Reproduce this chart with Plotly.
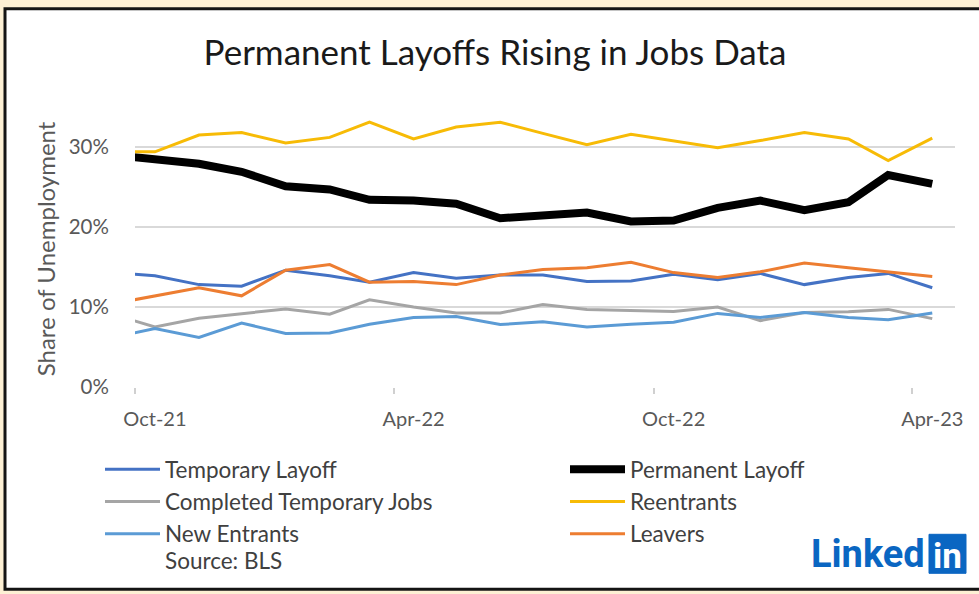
import plotly.graph_objects as go

# Monthly observations (mid-month dates); the first point sits just before the axis start
months = [
    "2021-09-15", "2021-10-15", "2021-11-15", "2021-12-15",
    "2022-01-15", "2022-02-15", "2022-03-15", "2022-04-15",
    "2022-05-15", "2022-06-15", "2022-07-15", "2022-08-15",
    "2022-09-15", "2022-10-15", "2022-11-15", "2022-12-15",
    "2023-01-15", "2023-02-15", "2023-03-15", "2023-04-15",
]

# Share of unemployment by reason (%)
temporary_layoff = [14.3, 13.9, 12.8, 12.6, 14.6, 13.9, 13.1, 14.3, 13.6, 14.0,
                    14.0, 13.2, 13.25, 14.1, 13.4, 14.2, 12.8, 13.7, 14.2, 12.4]
permanent_layoff = [29.0, 28.5, 27.9, 26.9, 25.1, 24.7, 23.4, 23.3, 22.9, 21.1,
                    21.4, 21.8, 20.7, 20.8, 22.4, 23.3, 22.1, 23.1, 26.5, 25.4]
completed_temporary = [9.1, 7.5, 8.6, 9.2, 9.75, 9.1, 10.9, 10.0, 9.25, 9.25,
                       10.3, 9.7, 9.6, 9.45, 10.0, 8.3, 9.3, 9.4, 9.7, 8.55]
reentrants = [29.4, 29.4, 31.5, 31.8, 30.5, 31.2, 33.1, 31.0, 32.5, 33.1,
              31.7, 30.3, 31.6, 30.8, 29.9, 30.8, 31.8, 31.0, 28.3, 31.1]
new_entrants = [6.2, 7.3, 6.2, 8.0, 6.7, 6.75, 7.85, 8.7, 8.8, 7.8,
                8.15, 7.5, 7.85, 8.1, 9.2, 8.7, 9.3, 8.7, 8.4, 9.25]
leavers = [10.4, 11.4, 12.4, 11.4, 14.6, 15.3, 13.1, 13.2, 12.8, 14.0,
           14.7, 14.9, 15.6, 14.3, 13.7, 14.4, 15.5, 14.9, 14.4, 13.8]

x_tick_dates = ["2021-10-15", "2022-04-15", "2022-10-15", "2023-04-15"]
x_tick_labels = ["Oct-21", "Apr-22", "Oct-22", "Apr-23"]
x_tick_marks = ["2021-10-01", "2022-04-01", "2022-10-01", "2023-04-01"]
y_tick_values = [0, 10, 20, 30]
y_tick_labels = ["0%", "10%", "20%", "30%"]

# name, values, colour, width, legend column
series = [
    ("Temporary Layoff", temporary_layoff, "#4472c4", 3, "legend"),
    ("Permanent Layoff", permanent_layoff, "#000000", 8, "legend2"),
    ("Completed Temporary Jobs", completed_temporary, "#a5a5a5", 3, "legend"),
    ("Reentrants", reentrants, "#f7bb06", 3, "legend2"),
    ("New Entrants", new_entrants, "#5b9bd5", 3, "legend"),
    ("Leavers", leavers, "#ed7d31", 3, "legend2"),
]

W, H = 979, 594
ML, MR, MT, MB = 135, 24, 106.7, 207.3
PW, PH = W - ML - MR, H - MT - MB


def px(x):
    return (x - ML) / PW


def py(y):
    return (H - MB - y) / PH


FONT = "Lato, 'Open Sans', sans-serif"

fig = go.Figure()
for name, values, color, width, legend_id in series:
    fig.add_trace(go.Scatter(
        x=months, y=values, name=name, mode="lines",
        line=dict(color=color, width=width),
        legend=legend_id, legendgroup=name,
        hovertemplate="%{y:.1f}%<extra>" + name + "</extra>",
    ))

legend_common = dict(
    orientation="v", xref="container", yref="container",
    xanchor="left", yanchor="top", itemwidth=55,
    font=dict(family=FONT, size=22.5, color="#404040"),
    bgcolor="rgba(0,0,0,0)", traceorder="grouped", tracegroupgap=0,
)

fig.update_layout(
    width=W, height=H,
    margin=dict(l=ML, r=MR, t=MT, b=MB, autoexpand=False),
    paper_bgcolor="#fdf0d4",
    plot_bgcolor="rgba(0,0,0,0)",
    font=dict(family=FONT, color="#595959", size=20),
    title=dict(
        text="Permanent Layoffs Rising in Jobs Data",
        xref="container", x=495 / W, xanchor="center",
        yref="container", y=1 - 53 / H, yanchor="middle",
        font=dict(family=FONT, size=35, color="#1a1a1a"),
    ),
    xaxis=dict(
        type="date",
        range=["2021-10-01", "2023-05-01"],
        tickmode="array", tickvals=x_tick_dates, ticktext=x_tick_labels,
        ticks="outside", ticklen=14, tickcolor="rgba(0,0,0,0)",
        showgrid=False, zeroline=False, showline=False,
        tickfont=dict(size=20, color="#595959"),
        minor=dict(tickmode="array", tickvals=x_tick_marks, ticks="outside",
                   ticklen=6, tickwidth=1.5, tickcolor="#d0d0d0", showgrid=False),
    ),
    yaxis=dict(
        range=[0, 35], tickmode="array",
        tickvals=y_tick_values, ticktext=y_tick_labels,
        showgrid=True, gridcolor="#d9d9d9", gridwidth=2,
        zeroline=False, showline=False,
        ticks="outside", ticklen=21, tickcolor="rgba(0,0,0,0)",
        tickfont=dict(size=20.5, color="#595959"),
    ),
    legend=dict(legend_common, x=100 / W, y=1 - 448 / H),
    legend2=dict(legend_common, x=565 / W, y=1 - 448 / H),
    shapes=[
        # card with dark frame
        dict(type="rect", xref="paper", yref="paper", layer="below",
             x0=px(5), x1=px(990), y0=py(589), y1=py(8.5),
             fillcolor="#ffffff", line=dict(color="#141414", width=3)),
        # LinkedIn "in" badge
        dict(type="rect", xref="paper", yref="paper",
             x0=px(929), x1=px(966), y0=py(573), y1=py(534),
             fillcolor="#0a66c2", line=dict(color="#0a66c2", width=1)),
    ],
    annotations=[
        # y-axis title
        dict(text="Share of Unemployment", xref="paper", yref="paper",
             x=px(45), y=py(249), xanchor="center", yanchor="middle",
             textangle=-90, showarrow=False,
             font=dict(size=24, color="#595959")),
        dict(text="Source: BLS", xref="paper", yref="paper",
             x=px(163), y=py(560), xanchor="left", yanchor="middle",
             showarrow=False, font=dict(size=22.5, color="#404040")),
        dict(text="<b>Linked</b>", xref="paper", yref="paper",
             x=px(927), y=py(554), xanchor="right", yanchor="middle",
             showarrow=False, font=dict(family="Roboto, sans-serif", size=38, color="#0a66c2")),
        dict(text="<b>in</b>", xref="paper", yref="paper",
             x=px(947.5), y=py(556), xanchor="center", yanchor="middle",
             showarrow=False, font=dict(family="Roboto, sans-serif", size=35, color="#ffffff")),
    ],
    showlegend=True,
)

fig.write_html("out.html")
